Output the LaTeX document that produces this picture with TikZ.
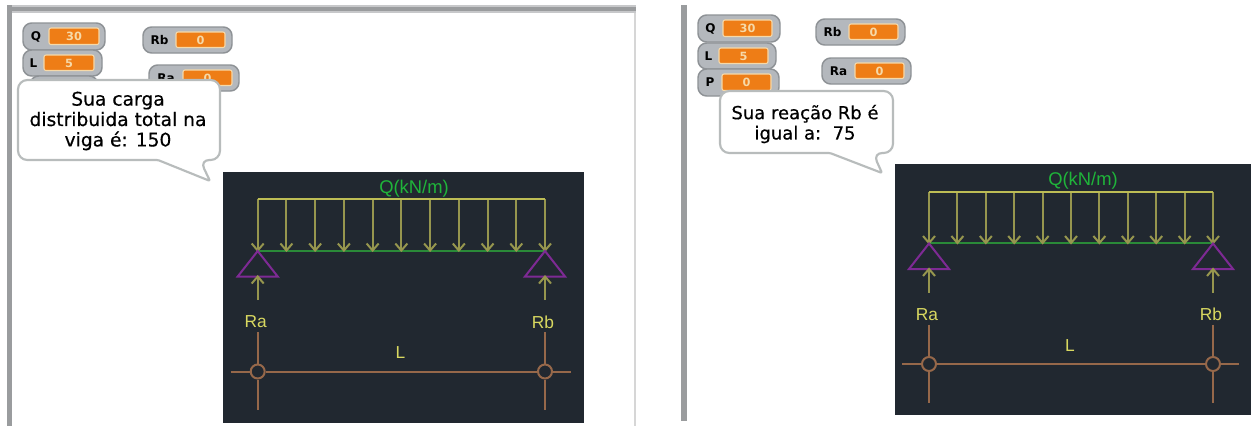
\documentclass[tikz,border=0pt]{standalone}
\usepackage{fontspec}
\setmainfont{DejaVu Sans}
\newfontfamily\labelfont{Liberation Sans}
\newfontfamily\bubblefont[FakeBold=0.5]{DejaVu Sans}
\usetikzlibrary{calc}
\definecolor{panelgray}{HTML}{9A9C9E}
\definecolor{panelthin}{HTML}{D6D6D6}
\definecolor{monitorgray}{HTML}{B4B8BD}
\definecolor{monitoredge}{HTML}{8E9296}
\definecolor{fieldorange}{HTML}{EE7D16}
\definecolor{fieldedge}{HTML}{F6D9A8}
\definecolor{bubbleedge}{HTML}{B8BCBC}
\definecolor{cadbg}{HTML}{212830}
\definecolor{loadyellow}{HTML}{BDBD55}
\definecolor{arrowyellow}{HTML}{96964E}
\definecolor{beamgreen}{HTML}{2A8A38}
\definecolor{qgreen}{HTML}{1FB53A}
\definecolor{supportpurple}{HTML}{7E2A94}
\definecolor{dimbrown}{HTML}{96684A}
\definecolor{labelyellow}{HTML}{D8D860}
\tikzset{
  x=0.75pt,y=-0.75pt,
  monitorbox/.style={fill=monitorgray,draw=monitoredge,line width=1.1pt,rounded corners=6.5pt},
  fieldbox/.style={fill=fieldorange,draw=fieldedge,line width=0.8pt,rounded corners=1.5pt},
  monname/.style={font=\bfseries\fontsize{9}{9}\selectfont,text=black,inner sep=0pt},
  monvalue/.style={font=\bfseries\fontsize{8.5}{8.5}\selectfont,text=fieldedge,inner sep=0pt},
  bubble/.style={fill=white,draw=bubbleedge,line width=1.6pt,rounded corners=7pt,line join=round},
  bubbletext/.style={align=center,inner sep=0pt,text=black},
  loadline/.style={draw=loadyellow,line width=1.5pt},
  loadarrow/.style={draw=arrowyellow,line width=1.5pt},
  beamline/.style={draw=beamgreen,line width=1.5pt},
  support/.style={draw=supportpurple,line width=1.5pt},
  dimline/.style={draw=dimbrown,line width=1.5pt},
  cadlabel/.style={font=\labelfont\fontsize{13}{13}\selectfont,text=labelyellow,inner sep=0pt},
}
\newcommand{\monitor}[9]{%
  \path[monitorbox] (#2,#3) rectangle (#4,#5);
  \path[fieldbox] (#8,#3+5) rectangle (#9,#5-5.5);
  \node[monname,anchor=center] (#1name) at ({(#2+#8)/2},{(#3+#5)/2}) {#6};
  \node[monvalue] (#1value) at ({(#8+#9)/2},{(#3+#5)/2}) {#7};
}
\newcommand{\beamdiagram}[9]{%
  \fill[cadbg] (#2,#3) rectangle (#4,#5);
  \coordinate (#1TL) at (#6,#8);
  \coordinate (#1TR) at (#7,#8);
  \coordinate (#1BL) at (#6,#8+51.5);
  \coordinate (#1BR) at (#7,#8+51.5);
  \draw[beamline] (#1BL) -- (#1BR);
  \foreach \i in {0,...,10}{
    \coordinate (#1a\i) at ({#6+(#7-#6)*\i/10},#8);
    \coordinate (#1b\i) at ({#6+(#7-#6)*\i/10},#8+51.5);
    \draw[loadarrow] (#1a\i) -- (#1b\i);
    \draw[loadarrow] ($(#1b\i)+(-6,-7)$) -- (#1b\i) -- ($(#1b\i)+(6,-7)$);
  }
  \draw[loadline] (#1TL) -- (#1TR);
  \node[font=\labelfont\fontsize{13.8}{14}\selectfont,text=qgreen,inner sep=0pt] (#1Q) at (#9,#8-10.5) {Q(kN/m)};
  \foreach \s/\xx in {L/#6,R/#7}{
    \coordinate (#1apex\s) at (\xx,#8+52);
    \coordinate (#1base\s) at (\xx,#8+77.5);
    \draw[support] (#1apex\s) -- ($(#1base\s)+(-20,0)$) -- ($(#1base\s)+(20,0)$) -- cycle;
    \coordinate (#1tail\s) at (\xx,#8+101);
    \draw[loadarrow] (#1tail\s) -- (#1base\s);
    \draw[loadarrow] ($(#1base\s)+(-6,7)$) -- (#1base\s) -- ($(#1base\s)+(6,7)$);
    \node[circle,draw=dimbrown,line width=1.5pt,minimum size=10.5pt,inner sep=0pt] (#1c\s) at (\xx,#8+172.5) {};
    \coordinate (#1up\s) at (\xx,#8+133);
    \coordinate (#1dn\s) at (\xx,#8+211);
    \draw[dimline] (#1up\s) -- (#1c\s.north);
    \draw[dimline] (#1c\s.south) -- (#1dn\s);
  }
  \node[cadlabel] (#1Ra) at (#6-2,#8+123) {Ra};
  \node[cadlabel] (#1Rb) at (#7-2,#8+123) {Rb};
  \node[cadlabel] (#1L) at ({(#6+#7)/2-1},#8+154) {L};
  \coordinate (#1hl) at (#6-27,#8+172.5);
  \coordinate (#1hr) at (#7+26,#8+172.5);
  \draw[dimline] (#1hl) -- (#1cL.west);
  \draw[dimline] (#1cL.east) -- (#1cR.west);
  \draw[dimline] (#1cR.east) -- (#1hr);
}
\begin{document}
\begin{tikzpicture}
\useasboundingbox (0,0) rectangle (1256,426);
\fill[white] (0,0) rectangle (1256,426);
% left panel frame
\fill[panelgray!55] (7,5) rectangle (636,13);
\fill[panelgray] (7,6.5) rectangle (636,11);
\fill[panelgray] (7,5) rectangle (11.5,426);
\fill[panelthin] (633.5,13) rectangle (636,426);
% right panel frame
\fill[panelgray] (681,5) rectangle (687,421);
% left monitors
\monitor{lQ}{23}{23}{105}{50}{Q}{30}{49}{99}
\monitor{lL}{23}{50}{102}{76}{L}{5}{44}{94}
\path[monitorbox] (30,76) rectangle (98,100);
\monitor{lRb}{143}{27}{232}{53}{Rb}{0}{176}{225}
\monitor{lRa}{149}{65}{239}{91}{Ra}{0}{183}{232}
% left bubble
\draw[bubble] (18,80) -- (220,80) -- (220,160) -- (200,160)
  [rounded corners=1pt] -- (210,181) -- (158,160) [rounded corners=7pt] -- (18,160) -- cycle;
\node[bubbletext,font=\bubblefont\fontsize{14}{15.3}\selectfont] (lmsg) at (118,121) {Sua carga\\distribuida total na\\viga é: 150};
\beamdiagram{l}{223}{172}{584}{423}{257.7}{545}{199}{414}
% right monitors
\monitor{rQ}{698}{15}{780}{42}{Q}{30}{723}{772}
\monitor{rL}{698}{43}{776}{69}{L}{5}{719}{768}
\monitor{rP}{698}{69}{779}{96}{P}{0}{722}{771}
\monitor{rRb}{816}{19}{905}{45}{Rb}{0}{849}{898}
\monitor{rRa}{822}{58}{911}{84}{Ra}{0}{855}{904}
% right bubble
\draw[bubble] (720,91) -- (893,91) -- (893,153) -- (873,153)
  [rounded corners=1pt] -- (882,173) -- (830,153) [rounded corners=7pt] -- (720,153) -- cycle;
\node[bubbletext,font=\bubblefont\fontsize{13.5}{15.2}\selectfont] (rmsg) at (805,124) {Sua reação Rb é\\igual a:\ \ 75};
\beamdiagram{r}{895}{164}{1251}{415}{929}{1213}{191.5}{1083}
\end{tikzpicture}
\end{document}
